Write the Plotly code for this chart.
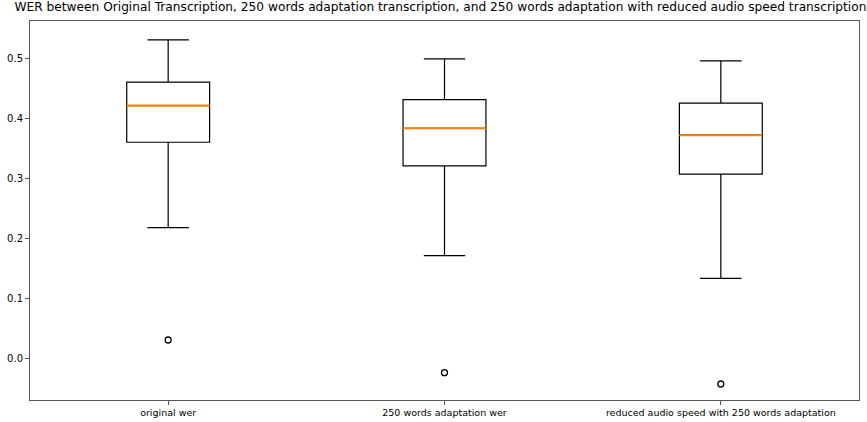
import plotly.graph_objects as go

categories = ["original wer", "250 words adaptation wer", "reduced audio speed with 250 words adaptation"]
q1 = [0.360, 0.3205, 0.307]
median = [0.421, 0.3833, 0.3717]
q3 = [0.460, 0.431, 0.425]
lower_whisker = [0.2177, 0.171, 0.1333]
upper_whisker = [0.5305, 0.4988, 0.4955]
outliers = [0.0305, -0.024, -0.0428]

title_text = "WER between Original Transcription, 250 words adaptation transcription, and 250 words adaptation with reduced audio speed transcription"

fig = go.Figure()
fig.add_trace(go.Box(
    x=categories, q1=q1, median=median, q3=q3,
    lowerfence=lower_whisker, upperfence=upper_whisker,
    width=0.3, whiskerwidth=0.5,
    fillcolor="rgba(0,0,0,0)",
    line=dict(color="black", width=1.2),
    boxpoints=False, showlegend=False, hoverinfo="skip",
))
# orange median line
fig.add_trace(go.Box(
    x=categories, q1=median, median=median, q3=median,
    lowerfence=median, upperfence=median,
    width=0.3, whiskerwidth=0,
    fillcolor="rgba(0,0,0,0)",
    line=dict(color="#ff7f0e", width=2),
    boxpoints=False, showlegend=False, hoverinfo="skip",
))
fig.add_trace(go.Scatter(
    x=categories, y=outliers, mode="markers",
    marker=dict(symbol="circle-open", size=6, color="black", line=dict(width=1.3)),
    showlegend=False, hoverinfo="skip",
))

fig.update_layout(
    width=867, height=422,
    margin=dict(l=30, r=8, t=21, b=22, autoexpand=False),
    plot_bgcolor="white", paper_bgcolor="white",
    font=dict(family="DejaVu Sans", color="black", size=10),
    title=dict(text=title_text, x=0.508, xanchor="center", y=0.993, yanchor="top",
               font=dict(size=12.2, family="DejaVu Sans", color="black")),
    boxmode="overlay",
)
fig.update_xaxes(
    type="category", range=[-0.5, 2.5], automargin=False,
    showline=True, linecolor="#555", linewidth=1, mirror=True,
    ticks="outside", ticklen=4, tickcolor="#555", showgrid=False,
    tickfont=dict(size=9.5),
)
fig.update_yaxes(
    range=[-0.0695, 0.562], tickvals=[0.0, 0.1, 0.2, 0.3, 0.4, 0.5], automargin=False,
    ticktext=["0.0", "0.1", "0.2", "0.3", "0.4", "0.5"],
    showline=True, linecolor="#555", linewidth=1, mirror=True,
    ticks="outside", ticklen=4, tickcolor="#555", showgrid=False, zeroline=False,
    tickfont=dict(size=10),
)
fig.write_html("out.html", config={"displayModeBar": False},
               post_script="document.body.style.margin='0';")
